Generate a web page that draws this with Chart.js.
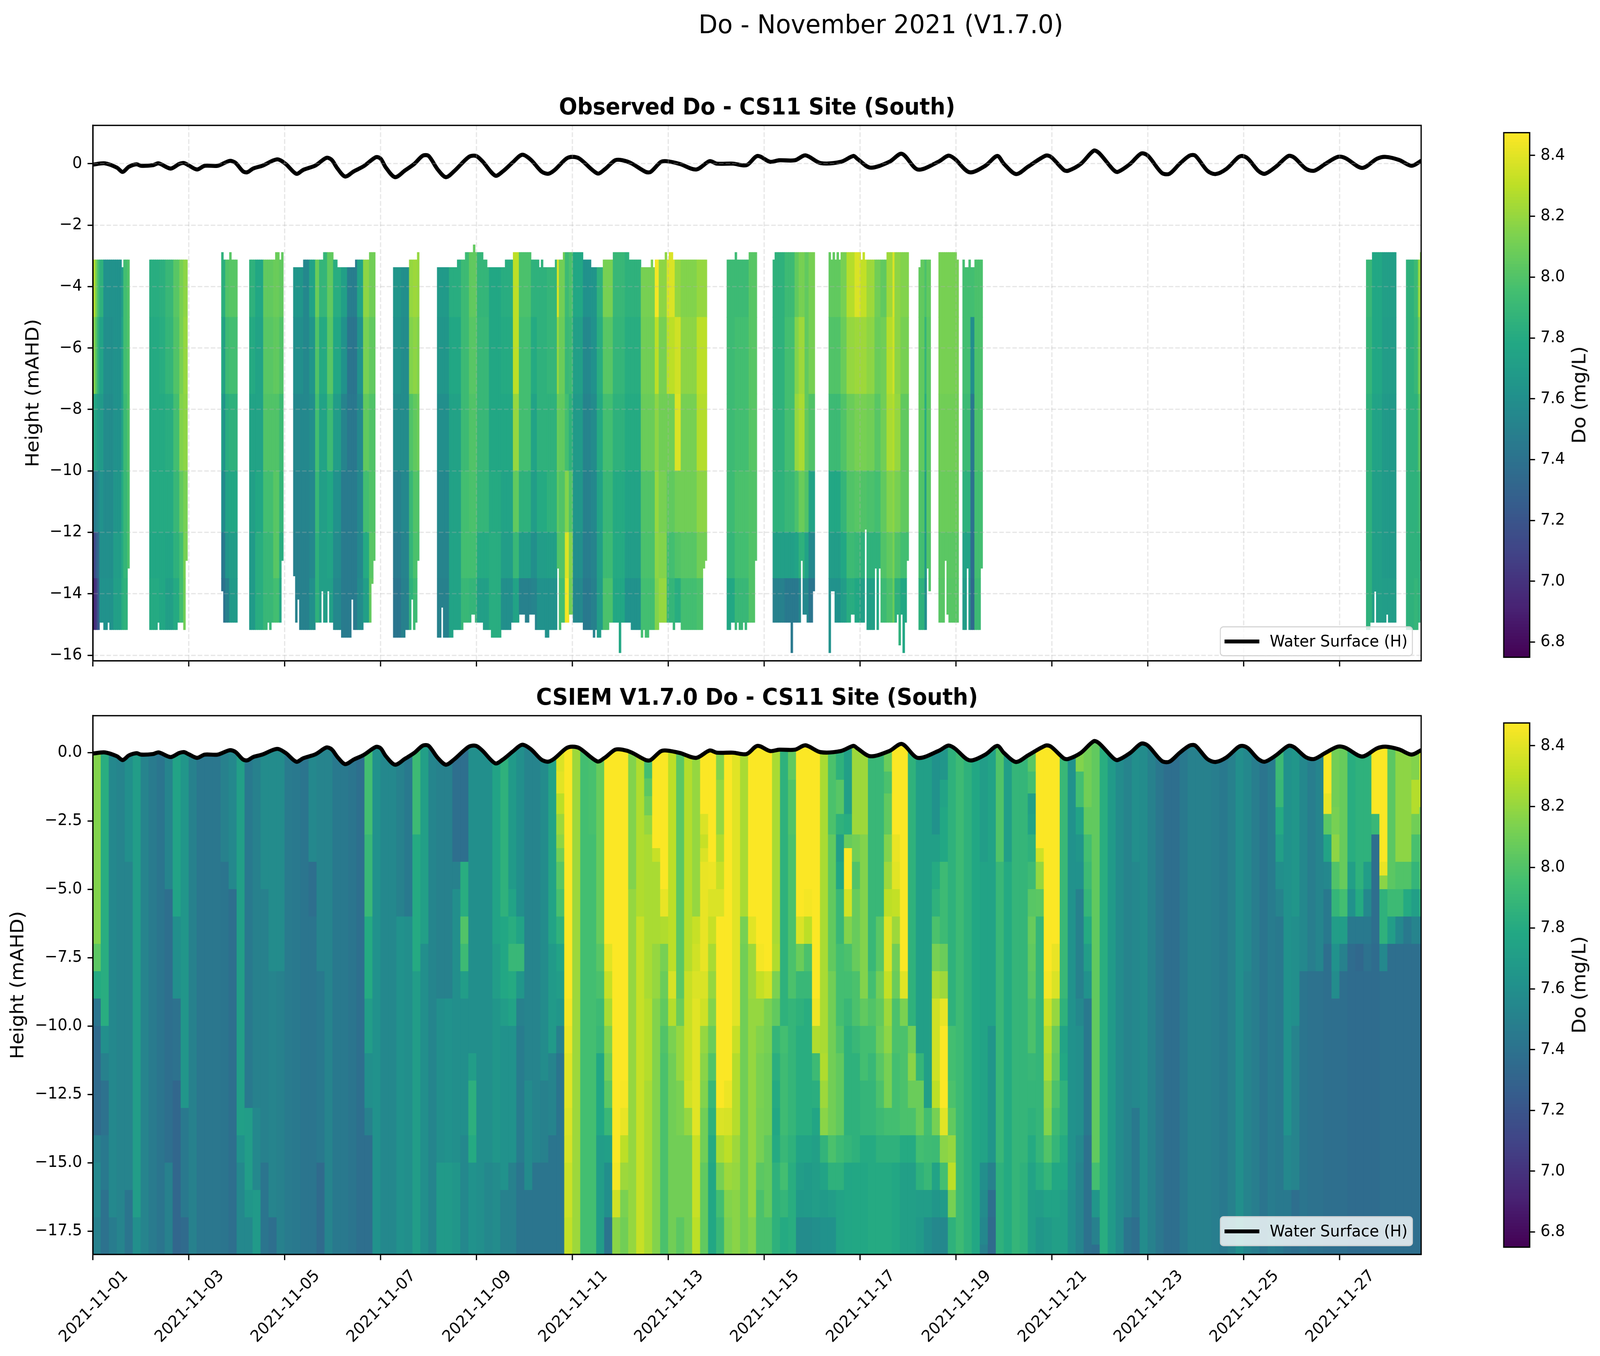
<!DOCTYPE html>
<html>
<head>
<meta charset="utf-8">
<title>Do - November 2021 (V1.7.0)</title>
<script src="https://cdn.jsdelivr.net/npm/chart.js@4/dist/chart.umd.js"></script>
<style>
  html, body { margin: 0; background: #fff; }
  html { overflow: hidden; }
  #page { position: relative; width: 4321px; height: 3471px; transform-origin: 0 0; font-family: "DejaVu Sans", sans-serif; color: #000; }
  canvas { position: absolute; }
  #mainTitle { position: absolute; left: 1379px; width: 2000px; top: 20px; text-align: center; font-size: 66.7px; line-height: 84px; }
  .cbLabel { position: absolute; left: 4264px; font-size: 50px; line-height: 60px; white-space: nowrap; transform: translate(-50%, -50%) rotate(-90deg); }
  .legend { position: absolute; left: 3294px; width: 522px; height: 77px; box-sizing: border-box; border: 3.3px solid rgba(204,204,204,.8); border-radius: 10px; background: rgba(255,255,255,.8); font-size: 41.7px; }
  .legend i { position: absolute; left: 10px; top: 31px; width: 94px; height: 10px; background: #000; }
  .legend span { position: absolute; left: 132px; top: 10px; line-height: 50px; white-space: nowrap; }
</style>
</head>
<body>
<div id="page">
<div id="mainTitle">Do - November 2021 (V1.7.0)</div>
<canvas id="observedChart" width="3880" height="1488" style="left:0;top:243px"></canvas>
<canvas id="modelChart" width="3880" height="1717" style="left:0;top:1754px"></canvas>
<canvas id="observedBar" width="281" height="1422" style="left:4040px;top:300px"></canvas>
<canvas id="modelBar" width="281" height="1421" style="left:4040px;top:1811px"></canvas>
<div class="cbLabel" style="top:1011px">Do (mg/L)</div>
<div class="cbLabel" style="top:2521px">Do (mg/L)</div>
<div class="legend" style="top:1603px"><i></i><span>Water Surface (H)</span></div>
<div class="legend" style="top:3113px"><i></i><span>Water Surface (H)</span></div>
</div>

<script>
// the browser can come up narrower than the figure, squeeze the page so the colour bars stay in view
const pageFit = Math.min(1, window.innerWidth / 4321);
if (pageFit < 1) document.getElementById('page').style.transform = `scaleX(${pageFit})`;

// axis labels, two-day ticks from the first of the month
const xTickLabels = ['2021-11-01','2021-11-03','2021-11-05','2021-11-07','2021-11-09','2021-11-11','2021-11-13',
  '2021-11-15','2021-11-17','2021-11-19','2021-11-21','2021-11-23','2021-11-25','2021-11-27'];

// water surface: day since 1 Nov, height in mAHD
const waterDays = [0,.25,.5,.62,.75,.91,1,1.25,1.37,1.62,1.8,1.9,2,2.17,2.33,2.6,2.85,2.97,3.13,3.22,3.34,3.53,3.84,4.02,4.24,4.39,4.64,4.87,4.98,
  5.1,5.26,5.44,5.65,5.9,6,6.11,6.3,6.51,6.7,6.88,7,7.19,7.36,7.53,7.84,7.99,8.12,8.39,8.55,8.76,8.95,9.13,9.35,9.49,9.62,9.87,10,10.15,10.52,10.67,10.89,
  11.04,11.23,11.53,11.63,11.84,11.96,12.24,12.58,12.86,13.01,13.35,13.63,13.86,14.12,14.31,14.64,14.86,15.17,15.6,15.86,15.94,16.21,16.61,16.87,17.2,17.63,17.84,17.97,
  18.28,18.61,18.86,19,19.25,19.5,19.87,19.98,20.25,20.34,20.6,20.87,20.98,21.28,21.37,21.63,21.86,22,22.29,22.45,22.66,22.87,22.99,23.24,23.41,23.64,23.88,23.97,
  24.09,24.3,24.44,24.67,24.93,25.05,25.3,25.47,25.7,25.96,26.12,26.47,26.78,26.96,27.24,27.5,27.7];
const waterLevels = [-.03,.01,-.13,-.27,-.1,-.02,-.07,-.05,.01,-.16,-.01,.02,-.06,-.19,-.07,-.07,.09,.03,-.25,-.28,-.16,-.07,.14,-.01,-.33,-.2,-.06,.19,.12,
  -.16,-.42,-.25,-.08,.21,.16,-.13,-.44,-.22,-.01,.26,.25,-.19,-.44,-.25,.22,.25,.08,-.39,-.25,.05,.29,.13,-.25,-.33,-.22,.16,.22,.16,-.32,-.19,.11,
  .11,.01,-.27,-.27,.05,.08,-.01,-.19,.08,0,0,-.05,.25,.06,.11,.11,.27,.02,.06,.25,.16,-.13,.06,.32,-.19,.06,.26,.16,
  -.28,-.07,.25,-.01,-.34,-.1,.26,.22,-.21,-.23,-.01,.42,.35,-.2,-.27,-.01,.33,.26,-.3,-.33,-.01,.26,.26,-.23,-.34,-.17,.2,.25,
  .16,-.23,-.33,-.1,.25,.2,-.17,-.23,-.01,.22,.18,-.14,.16,.22,.12,-.07,.09];

// model Do, one list per 4 h column from the surface down: value, depth it reaches (m), value, depth, ... last value runs to the bed
const modelColumns = [
  [8.15,7,8.03,8,7.8,9,7.42,10,7.35,14,7.5,15,7.55,17,7.5],[7.82,10,7.6,11,7.5,12,7.4,14,7.45,16,7.4],[7.55,17,7.47],[7.52],[7.6,4,7.52,16,7.42],
  [7.7,17,7.6],[7.52],[7.46],[7.42],[7.52,5,7.38,15,7.5],
  [7.75,6,7.6,9,7.4,12,7.32],[7.65,13,7.45,17,7.35],[7.5],[7.43],[7.43],
  [7.43],[7.5,4,7.42],[7.55,5,7.38],[7.72,14,7.62,15,7.55],[7.45,13,7.7,16,7.65,17,7.55],
  [7.5,13,7.55,16,7.68],[7.58,5,7.5,15,7.42],[7.58,8,7.52,17,7.38],[7.58,8,7.5],[7.46],
  [7.45],[7.42],[7.55,4,7.38,6,7.42],[7.52,8,7.45,15,7.35],[7.52],
  [7.45],[7.45],[7.42],[7.38],[7.95,3,7.9,6,7.8,9,7.7,11,7.6,13,7.5,14,7.38],
  [7.62],[7.55],[7.55],[7.5,6,7.62],[7.45,6,7.6],
  [7.92,3,7.8,8,7.7],[7.72,7,7.6],[7.53],[7.5,9,7.6,15,7.68],[7.5,9,7.62,15,7.68],
  [7.38,4,7.5,5,7.6,15,7.65],[7.38,4,7.82,6,8,7,7.92,8,7.7,9,7.6,14,7.55],[7.6,11,7.7,12,7.84,14,7.8,15,7.62],[7.6],[7.6,15,7.55],
  [7.75,7,7.7,9,7.65,15,7.58],[7.85,6,7.78,9,7.7,10,7.62,16,7.5],[7.68,5,7.75,6,7.82,7,7.9,8,7.8,9,7.75,10,7.62,15,7.5],[7.6,6,7.75,7,7.9,8,7.65,9,7.5,10,7.47,15,7.42],[7.52,12,7.57,16,7.42],
  [7.52,15,7.42],[7.58,12,7.5,15,7.42],[7.75,7,7.68,11,7.52,14,7.42],[8.38,.7,8.4,1.5,8.3,2.25,8.22,3,8.18,3.5,8.1,4,8.02,5,7.97,6,7.85,7,7.75,8,7.7,9,7.65,10,7.5,11,7.42],[8.47,9,8.45,10,8.43,11,8.4,13,8.38,14,8.37,15,8.34,17,8.32],
  [8.22],[7.95],[7.97,3,7.95],[8.07,7,8.02,8,7.98,9,7.92,10,7.9,11,7.78,14,7.7],[8.47,7,8.4,8,8.33,9,8.25,10,8.15,11,8.1,12,8.03,13,7.9,14,7.72,15,7.6,17,7.42],
  [8.47,15,8.45,16,8.35,17,8.17],[8.47,12,8.46,13,8.42,14,8.3,15,8.22,16,8.13,17,8.1],[8.15,5,8.2],[8.27,6,8.33],[7.95,.95,8.03,1.6,8.1,2.3,8.2,3,8.25,9,8.28,12,8.25],
  [8.47,3.5,8.33,4,8.25,7,8.2,9,8.15],[8.47,5,8.42,6,8.27,7,8.12,8,8.08,9,8.05,10,8,11,7.98],[8.3,8,8.37,9,8.28,10,8.13,11,8.1],[8.03,9,8.08,10,8.2,12,8.13,14,8.1,17,8.03],[8.28,8,8.33,12,8.35,13,8.2,14,8.1],
  [8.2,6,8.33,7,8.35,8,8.38,9,8.4,14,8.33,17,8.3],[8.47,2.25,8.38,3,8.33,3.5,8.38,4,8.42,8,8.38,9,8.35,10,8.2,11,8.17,12,8.15,13,8.1,15,8.05],[8.47,4,8.43,5,8.38,6,8.33,7,8.25,8,8.2,9,8.15,10,8.08,11,8,12,7.9,13,7.85,14,7.8,15,7.78],[8.15,1,8.2,3,8.27,4,8.33,5,8.38,6,8.47,13,8.38,14,8.25,15,8.12,16,7.95,17,7.9],[8.47,12,8.43,13,8.37,14,8.3,15,8.22,16,8.15,17,8.13],
  [8.4,10,8.33,11,8.28,14,8.22,15,8.2,16,8.17],[8.25,6,8.12,7,8.1],[8.47,6,8.4,7,8.22,9,8.2,17,8.15],[8.47,7,8.45,8,8.32,9,8.2,10,8.15,11,8.13,13,8.12,15,8.03,16,7.98],[8.47,8,8.36,9,8.13,10,8.12,11,8.1,14,8.05,17,7.98],
  [8.25,7,8.27,8,8.13,9,8.05,10,7.88,11,7.83,12,7.8,13,7.78,14,7.8,15,7.85],[7.85,10,7.95,11,7.93,14,7.9,15,7.95,16,7.88,17,7.8],[8.05,1,8,3,7.98,9,7.88,14,7.85,15,7.82],[8.47,6,8.38,7,8.08,8,7.9,9,7.85,10,7.82,14,7.75,15,7.7,16,7.67,17,7.58],[8.47,5,8.45,6,8.3,7,7.98,8,7.9,9,7.82,14,7.75,15,7.68,17,7.58],
  [8.47,9,8.44,10,8.27,11,7.92,12,7.83,13,7.76,14,7.72,15,7.7,17,7.6],[8.25,11,8.27,12,8.22,13,8.17,14,7.87,15,7.75,16,7.68,17,7.62],[7.98,3,8.05,8,8.1,14,7.98,15,7.85,16,7.7,17,7.62],[7.85,1,8.02,2.25,7.85,3,7.72,4,7.78,5,7.9,7,7.95,10,8,11,8.05,14,7.92,15,7.85,16,7.75],[7.72,2.25,7.82,3,8.07,3.5,8.47,5,8.36,6,8.15,7,7.98,8,7.95,9,7.9,10,7.85,14,7.88,15,7.77],
  [8.22,3,8.1,4,8,5,8.07,8,7.98,10,7.9,11,7.85,15,7.78],[8.22,3,8.15,9,8.05,10,7.95,12,7.88,14,7.8,15,7.78],[7.9,8,7.95,9,8,10,7.95,11,7.9,12,7.88,14,7.8],[7.9,6,8.02,8,8.1,9,8.05,10,8.08,11,8.02,12,7.98,13,7.92,14,7.85,15,7.8],[8.08,.7,7.98,1.5,8.05,3,8.15,4,8.22,5,8.3,6,8.38,8,8.32,9,8.22,10,8.18,11,8.12,13,7.95,14,7.85,15,7.8],
  [8.47,3,8.42,4,8.4,5,8.32,6,8.22,7,8.1,8,8.08,9,7.98,11,7.95,14,7.85,15,7.78],[8.47,8,8.4,9,8.13,10,7.98,14,7.8,15,7.72],[7.85,10,8.1,11,8.17,12,8.08,13,7.98,14,7.8,15,7.72],[7.72,11,7.88,12,8.08,14,7.95,15,7.85,16,7.7,17,7.68],[7.72,13,7.95,14,7.93,15,7.9,16,7.7,17,7.6],
  [7.62,3,7.72,4,7.8,5,7.85,6,7.98,7,8.12,8,8.25,9,8.35,12,8.3,13,8.12,14,7.92,15,7.75,16,7.65,17,7.55],[7.65,1,7.75,2,7.78,4,7.92,7,8.08,8,8.22,9,8.42,10,8.47,13,8.4,14,8.17,15,7.95,16,7.68,17,7.55],[7.85,10,7.95,12,7.98,13,8.05,14,8.2,15,8.3,16,8.12,17,7.85],[7.92],[7.85],
  [7.78],[7.7,4,7.75,15,7.6,16,7.58,17,7.55,18,7.5],[7.75,10,7.65,15,7.5,16,7.38,17,7.35],[8,4,7.9,15,7.85],[7.72,4,7.8],
  [7.88],[7.88,15,7.85],[8.02,.7,7.95,1.5,7.72,2.25,7.75,3,7.85,4,7.92,5,8.02,6,8.07,7,8.05,8,8.03,9,7.98,11,7.9,12,7.88,13,7.85,14,7.8,15,7.75,16,7.72],[8.47,3.5,8.35,4,8.2,5,8.03,6,7.88,15,7.82,16,7.7,17,7.65],[8.47,8,8.45,9,8.35,10,8.28,11,8.25,12,8.17,13,8.15,14,8,15,7.88,16,7.75,17,7.68],
  [8.47,7,8.42,8,8.38,9,8.2,10,8.08,11,8.05,12,7.98,13,7.92,14,7.88,15,7.78,16,7.75,17,7.72],[7.9,9,7.85,10,7.75,11,7.78,12,7.85,14,7.8,15,7.78,16,7.72],[7.62,16,7.6],[8.15,.7,7.95,2,7.75,3,7.65,4,7.62,5,7.5,9,7.55,10,7.6,14,7.55,15,7.52],[8.1,2,8.05,3,7.95,4,7.92,5,7.88,6,7.8,7,7.7,8,7.62,9,7.45,14,7.4],
  [8.05,15,7.95,16,7.65,17,7.5,18,7.38],[7.82],[7.68],[7.58],[7.52,17,7.42],
  [7.6,4,7.55,13,7.45,17,7.38],[7.58],[7.5],[7.43],[7.38],
  [7.38],[7.45],[7.5],[7.5],[7.5],
  [7.48],[7.45],[7.5],[7.6],[7.55,8,7.52],
  [7.48],[7.42],[7.47],[7.92,1,7.9,2,7.8,3,7.72,4,7.6,5,7.52,6,7.45],[7.62,14,7.55,16,7.45,17,7.4],
  [7.65,6,7.6,10,7.52,16,7.38],[7.55,8,7.42],[7.48,8,7.4],[7.53,8,7.4],[8.47,1.5,8.42,2.25,8.03,3,7.75,4,7.55,5,7.45,7,7.38],
  [8.1,2,8.12,3,8.18,4,8,5,7.88,6,7.7,7,7.62,8,7.58,9,7.38],[8.07,5,7.95,6,7.7,7,7.5,8,7.38],[7.82,4,7.72,5,7.62,6,7.45,7,7.36],[7.85,5,7.8,6,7.45,7,7.33,8,7.36],[7.85,4,7.7,5,7.55,6,7.45,7,7.4,8,7.36],
  [8.47,2.25,7.9,3,7.38,7,7.36],[8.47,4,8.42,4.5,8.17,5,7.85,7,7.55,8,7.38],[8.03,5,7.92,6,7.7,7,7.38],[8.18,4,8,5,7.92,6,7.55,7,7.38],[8.18,4,8,5,7.8,6,7.45,7,7.38],
  [8.15,1,8.28,2.25,8.1,3,7.97,4,7.88,5,7.72,6,7.52,7,7.38],[8.35,1,8.3,2,8.1,3,8,5,7.85,6,7.5,7,7.38]
];

// observed profile outline, by hour since 1 Nov: hour, top of profile (mAHD), each level holds until the next hour listed
const obsTopRuns = [0,-3.13,14,-3.38,15,-3.13,64,-2.89,65,-3.13,68,-2.89,69,-3.13,91,-2.89,93,-3.13,94,-2.89,100,-3.38,105,-3.13,115,-2.89,120,-3.13,122,-3.38,131,-3.13,138,-2.89,
  150,-3.38,158,-3.13,162,-2.89,172,-3.38,182,-3.13,186,-2.89,190,-2.64,191,-2.89,195,-3.13,197,-3.38,206,-3.13,210,-2.89,219,-3.13,223,-3.38,224,-3.13,225,-3.38,231,-3.13,235,-2.89,
  245,-3.13,249,-3.38,255,-3.13,260,-2.89,268,-3.13,274,-3.38,279,-3.13,280,-3.38,281,-3.13,286,-2.89,287,-3.13,288,-2.89,290,-3.13,321,-2.89,322,-3.13,328,-2.89,340,-3.13,341,-2.89,
  369,-3.13,370,-2.89,371,-3.13,372,-2.89,373,-3.13,374,-2.89,384,-3.13,385,-2.89,386,-3.13,397,-2.89,413,-3.38,414,-3.13,423,-2.89,432,-3.13,436,-3.38,438,-3.13,439,-3.38,441,-3.13,
  640,-2.89,657,-3.13,664,-2.89];
const obsBottomRuns = [0,-15.17,3,-14.93,5,-15.17,7,-14.93,8,-15.17,17,-13.17,28,-15.17,32,-14.93,33,-15.17,42,-14.93,45,-15.17,46,-12.92,64,-13.91,65,-14.93,78,-15.17,87,-14.93,88,-15.17,89,-14.93,94,-12.92,
  100,-13.42,101,-14.93,102,-14.18,103,-15.17,111,-14.93,114,-13.91,115,-14.93,117,-13.91,118,-14.93,120,-15.17,124,-15.42,129,-14.18,130,-15.17,135,-14.93,139,-13.67,140,-12.92,
  150,-15.42,156,-15.17,159,-14.18,160,-15.17,161,-14.93,162,-12.92,172,-15.42,174,-14.44,175,-15.42,180,-15.17,185,-14.93,189,-14.67,191,-14.93,195,-15.17,199,-15.42,204,-15.17,209,-14.93,213,-14.67,216,-14.93,218,-14.67,221,-15.17,
  226,-15.42,228,-15.17,232,-13.17,233,-15.17,234,-14.93,238,-14.67,240,-14.93,245,-15.17,250,-15.42,251,-15.17,252,-15.42,254,-15.17,258,-14.93,263,-15.92,264,-14.93,269,-15.17,274,-15.42,275,-15.17,276,-15.42,278,-15.17,283,-14.93,290,-15.17,291,-14.93,294,-15.17,305,-13.17,306,-12.92,
  317,-15.17,319,-14.93,321,-15.17,322,-14.93,323,-15.17,325,-14.93,326,-15.17,327,-14.93,331,-12.92,340,-14.93,349,-15.92,350,-14.93,354,-12.92,355,-14.67,357,-14.93,360,-13.91,
  368,-15.92,369,-13.91,371,-14.93,379,-14.67,381,-14.93,386,-11.9,387,-15.17,391,-13.17,392,-15.17,393,-13.17,394,-14.93,402,-14.67,403,-15.67,404,-14.67,405,-15.92,406,-14.93,407,-12.92,
  413,-15.17,417,-13.17,418,-13.91,423,-14.93,426,-12.92,427,-14.67,428,-14.93,435,-15.17,437,-13.17,438,-15.17,444,-13.17,637,-15.17,639,-14.93,641,-13.92,642,-14.93,647,-14.67,648,-14.93,657,-15.17,663,-14.93,664,-12.92];

// depths where the observed strips change value
const obsZoneEdges = [-5, -7.5, -10, -12, -13.5];
// observed Do strips: from hour, to hour, then one value per zone from top to bed
const observedStrips = [
  [0,1,8.28,8.15,7.8,7.45,7.1,6.95],[1,2,8.1,8,7.75,7.5,7.25,7.05],[2,3,7.95,7.85,7.7,7.55,7.35,7.25],[3,5,7.85,7.75,7.68,7.62,7.6,7.62],[5,10,7.62,7.6,7.58,7.57,7.6,7.62],[10,14,7.62,7.62,7.62,7.65,7.7,7.72],[14,15,7.72,7.75,7.75,7.8,7.8,7.82],[15,17,7.95,7.95,7.92,7.9,7.88,7.85],[17,18,8,8,8,7.98,7.98,7.98],
  [28,33,7.82,7.8,7.8,7.8,7.78,7.8],[33,36,7.84,7.82,7.8,7.8,7.78,7.78],[36,40,7.9,7.88,7.82,7.8,7.76,7.72],[40,43,8.02,8,7.95,7.9,7.85,7.8],[43,45,8.12,8.12,8.15,8.05,7.95,7.95],[45,47,8.18,8.2,8.18,8.12,8.12,8.1],
  [64,65,7.85,7.8,7.72,7.6,7.45,7.4],[65,66,7.82,7.72,7.62,7.55,7.45,7.4],[66,68,8,7.92,7.82,7.75,7.65,7.5],[68,72,8.02,7.95,7.85,7.78,7.7,7.68],
  [78,81,7.85,7.8,7.75,7.72,7.68,7.68],[81,85,7.78,7.75,7.75,7.78,7.82,7.82],[85,90,8.05,8.02,8,7.95,7.9,7.9],[90,93,8.08,8.05,8,8.02,8.02,7.95],[93,95,8.05,8,7.92,7.88,7.82,7.78],
  [100,105,7.65,7.6,7.55,7.52,7.5,7.5],[105,108,7.55,7.55,7.55,7.52,7.5,7.5],[108,111,7.75,7.65,7.6,7.55,7.55,7.6],[111,113,8.08,8,7.95,7.9,7.85,7.85],[113,117,7.88,7.8,7.75,7.72,7.72,7.72],[117,120,8.05,8.02,7.92,7.78,7.75,7.72],[120,124,7.82,7.78,7.7,7.62,7.58,7.55],[124,127,7.72,7.62,7.52,7.46,7.46,7.46],[127,132,7.48,7.42,7.44,7.46,7.46,7.46],[132,135,7.75,7.62,7.56,7.55,7.55,7.58],[135,138,8.18,8.12,8.05,7.95,7.8,7.72],[138,141,8.1,8.05,8,8,8.02,8.05],
  [150,154,7.65,7.62,7.58,7.5,7.46,7.42],[154,158,7.6,7.58,7.58,7.55,7.52,7.5],[158,160,8.2,8.15,8,7.9,7.88,7.85],[160,162,8.22,8.18,8.05,8,7.98,7.92],[162,163,8.2,8.15,8.08,8,7.98,7.95],
  [172,178,7.68,7.65,7.6,7.55,7.52,7.5],[178,184,7.82,7.78,7.74,7.74,7.75,7.75],[184,188,7.92,7.92,7.92,7.95,7.95,7.9],[188,192,8.05,8.02,8,7.98,7.95,7.88],[192,198,7.88,7.9,7.9,7.88,7.8,7.72],[198,204,7.78,7.78,7.78,7.8,7.82,7.82],[204,210,7.82,7.8,7.78,7.75,7.7,7.6],[210,213,8.3,8.3,8.2,8.05,7.9,7.75],[213,219,7.98,7.95,7.95,7.85,7.7,7.5],[219,222,7.85,7.8,7.75,7.7,7.6,7.52],
  [222,227,7.85,7.85,7.85,7.8,7.7,7.62],[227,232,7.88,7.88,7.85,7.85,7.72,7.62],[232,233,8.38,8.2,8.08,8.05,8,7.95],[233,236,8.1,8.08,8.05,8,8,7.95],[236,238,7.92,7.9,7.95,8.15,8.38,8.45],[238,240,7.98,7.92,7.85,8,8.15,8.1],[240,245,7.78,7.72,7.68,7.65,7.6,7.55],[245,249,7.62,7.55,7.52,7.5,7.48,7.45],[249,252,7.64,7.62,7.58,7.55,7.52,7.5],[252,255,7.85,7.82,7.8,7.75,7.72,7.7],[255,260,8.12,8.02,7.95,7.9,7.92,7.98],[260,266,7.9,7.88,7.85,7.8,7.8,7.78],[266,274,7.85,7.82,7.8,7.75,7.7,7.62],[274,281,8.12,8.1,8.08,8,7.98,7.95],[281,283,8.45,8.3,8.18,8.2,8.18,8.15],[283,287,8.18,8.12,8.1,8.12,8.15,8.2],[287,291,8.38,8.3,8.1,8.05,7.95,7.88],[291,294,8.2,8.35,8.38,8.1,8,7.82],[294,302,8.15,8.18,8.12,8.1,8.02,7.95],[302,307,8.2,8.3,8.28,8.18,8.1,7.98],
  [317,321,7.92,7.92,7.92,7.92,7.88,7.78],[321,328,7.92,7.95,7.95,7.98,7.95,7.9],[328,332,8.02,8.02,8.02,8,8,8],
  [340,346,7.85,7.85,7.85,7.85,7.72,7.5],[346,351,7.92,7.95,7.95,7.9,7.72,7.45],[351,353,8.05,8.15,8.2,7.98,7.75,7.45],[353,356,8.12,8.22,8.25,8.08,7.85,7.55],[356,358,8.05,8.05,8.05,8,7.75,7.55],[358,361,8.12,8.12,8,7.75,7.55,7.42],
  [368,374,8.05,8,7.92,7.78,7.7,7.62],[374,377,8.12,8.08,8,7.88,7.78,7.7],[377,381,8.28,8.2,8.08,8,7.92,7.82],[381,384,8.38,8.22,8.12,8.02,7.9,7.78],[384,387,8.32,8.22,8.12,8,7.85,7.72],[387,391,8.22,8.18,8.1,7.98,7.85,7.72],[391,394,8.1,8.08,8.02,7.95,7.85,7.78],[394,397,8.05,8.1,8.1,8.05,8,7.92],[397,400,8.22,8.28,8.25,8.15,8.05,7.98],[400,401,8.38,8.35,8.28,8.18,8.12,8.08],[401,404,8.18,8.18,8.2,8.12,8,7.85],[404,408,8.15,8.12,8.05,8.05,7.95,7.78],
  [413,416,8.05,8.05,8.05,8,7.95,7.85],[416,417,7.98,7.88,7.82,7.72,7.68,7.6],[417,419,8.05,8.03,8.03,8.03,8,8],[423,433,8.12,8.12,8.1,8.08,8.03,8.02],
  [435,439,7.95,7.95,7.92,7.85,7.75,7.7],[439,441,7.95,7.6,7.45,7.4,7.38,7.35],[441,445,7.98,7.98,7.98,7.95,7.95,7.92],
  [637,640,7.9,7.88,7.85,7.85,7.85,7.85],[640,645,7.78,7.78,7.75,7.72,7.72,7.72],[645,652,7.72,7.7,7.68,7.68,7.68,7.7],[657,661,7.85,7.85,7.85,7.85,7.85,7.85],[661,663,7.92,7.9,7.85,7.85,7.85,7.88],[663,664,8.2,8.1,8,7.9,7.85,7.85],[664,665,8.15,8.12,8.08,8,7.95,7.95]
];

// scale limits
const doMin = 6.75, doMax = 8.475;
const dayMax = 27.7;
const obsYMin = -16.18, obsYMax = 1.245;
const modelYMin = -18.35, modelYMax = 1.353;

const viridisStops = ['#440154','#482475','#414487','#355f8d','#2a788e','#21918c','#22a884','#44bf70','#7ad151','#bddf26','#fde725'];

Chart.defaults.font.family = '"DejaVu Sans", sans-serif';
Chart.defaults.color = '#000';
Chart.defaults.animation = false;

const LW = 3.33; // axis line width
const TICK = 14.6;
const FS_TICK = 41.67;

function hexToRgb(h) {
  return [parseInt(h.slice(1,3),16), parseInt(h.slice(3,5),16), parseInt(h.slice(5,7),16)];
}

// map a Do value to the viridis colour
function viridis(v) {
  let t = (v - doMin) / (doMax - doMin);
  t = Math.max(0, Math.min(1, t));
  const pos = t * (viridisStops.length - 1);
  const i = Math.min(Math.floor(pos), viridisStops.length - 2);
  const a = hexToRgb(viridisStops[i]), b = hexToRgb(viridisStops[i+1]);
  const f = pos - i;
  return `rgb(${a.map((c,k) => Math.round(c + (b[k]-c)*f)).join(',')})`;
}

// step lookup in a flat [hour, value, hour, value...] list
function stepLookup(runs, hour) {
  let val = runs[1];
  for (let i = 0; i < runs.length; i += 2) {
    if (runs[i] <= hour) val = runs[i+1];
    else break;
  }
  return val;
}

function buildModelBars() {
  const bars = [];
  modelColumns.forEach((col, n) => {
    let top = modelYMax;
    for (let i = 0; i < col.length; i += 2) {
      const low = i + 1 < col.length ? -col[i+1] : modelYMin;
      bars.push({x: (n + 0.5) / 6, y: [low, top], v: col[i]});
      top = low;
    }
  });
  return bars;
}

function buildObservedBars() {
  const bars = [];
  observedStrips.forEach(s => {
    for (let h = s[0]; h < s[1]; h++) {
      const top = stepLookup(obsTopRuns, h), bottom = stepLookup(obsBottomRuns, h);
      let upper = top;
      for (let z = 0; z <= obsZoneEdges.length && upper > bottom; z++) {
        const low = z < obsZoneEdges.length ? Math.max(obsZoneEdges[z], bottom) : bottom;
        bars.push({x: (h + 0.8) / 24, y: [low, upper], v: s[2+z]});
        upper = low;
      }
    }
  });
  return bars;
}

// top and right spines, the scales only draw left and bottom
const frame = {
  id: 'frame',
  afterDraw(chart) {
    const a = chart.chartArea, c = chart.ctx;
    c.save();
    c.strokeStyle = '#000';
    c.lineWidth = LW;
    c.strokeRect(a.left, a.top, a.right - a.left, a.bottom - a.top);
    c.restore();
  }
};

function panel(id, titleText, bars, yMin, yMax, yStep, yFmt, opts) {
  const water = waterDays.map((d,i) => ({x: d, y: waterLevels[i]}));
  const gridZ = opts.gridLines ? 1 : -1;
  const borderZ = opts.gridLines ? 1 : 0;
  return new Chart(document.getElementById(id), {
    type: 'bar',
    plugins: [frame],
    data: {
      datasets: [
        {
          type: 'line',
          label: 'Water Surface (H)',
          data: water,
          borderColor: '#000',
          borderWidth: 10.4,
          borderJoinStyle: 'round',
          borderCapStyle: 'round',
          pointRadius: 0,
          tension: 0.3,
          fill: opts.clipAbove ? 'end' : false,
          backgroundColor: '#fff',
          order: 0
        },
        {
          label: 'Do',
          data: bars,
          backgroundColor: bars.map(b => viridis(b.v)),
          borderWidth: 0,
          barPercentage: 1,
          categoryPercentage: 1,
          inflateAmount: 0.6,
          order: 1
        }
      ]
    },
    options: {
      responsive: false,
      devicePixelRatio: 1,
      animation: false,
      events: [],
      layout: {padding: {left: 0, right: 42, top: 0, bottom: 0}},
      plugins: {
        legend: {display: false},
        tooltip: {enabled: false},
        title: {
          display: true,
          text: titleText,
          fullSize: false,
          font: {size: 58.3, weight: 'bold', lineHeight: 1.2},
          padding: {top: 0, bottom: 8}
        }
      },
      scales: {
        x: {
          type: 'linear',
          offset: false,
          min: 0,
          max: dayMax,
          afterFit: s => { s.height = opts.xHeight; },
          grid: {offset: false, display: true, drawOnChartArea: opts.gridLines, color: 'rgba(176,176,176,0.3)', lineWidth: LW, z: gridZ,
                 tickColor: '#000', tickWidth: LW, tickLength: TICK},
          border: {display: true, color: '#000', width: LW, dash: [12.3, 5.3], z: borderZ},
          ticks: {
            stepSize: 2,
            includeBounds: false,
            autoSkip: false,
            minRotation: opts.showDates ? 45 : 0,
            maxRotation: opts.showDates ? 45 : 0,
            padding: 16,
            labelOffset: opts.showDates ? 88 : 0,
            font: {size: FS_TICK},
            callback: v => opts.showDates ? xTickLabels[v / 2] : ''
          }
        },
        y: {
          type: 'linear',
          min: yMin,
          max: yMax,
          afterFit: s => { s.width = 251; },
          title: {display: true, text: 'Height (mAHD)', font: {size: 50, lineHeight: 1.2}, padding: {top: opts.labelPad, bottom: 0}},
          grid: {drawOnChartArea: opts.gridLines, color: 'rgba(176,176,176,0.3)', lineWidth: LW, z: gridZ,
                 tickColor: '#000', tickWidth: LW, tickLength: TICK},
          border: {display: true, color: '#000', width: LW, dash: [12.3, 5.3], z: borderZ},
          ticks: {stepSize: yStep, includeBounds: false, autoSkip: false, padding: 14.6, font: {size: FS_TICK}, callback: yFmt}
        }
      }
    }
  });
}

function colorbar(id) {
  const edges = [];
  for (let i = 0; i <= 172; i++) edges.push(doMin + (doMax - doMin) * i / 172);
  const slices = edges.slice(0, -1).map((e, i) => ({x: 'Do', y: [e, edges[i+1]], v: (e + edges[i+1]) / 2}));
  return new Chart(document.getElementById(id), {
    type: 'bar',
    plugins: [frame],
    data: {
      labels: ['Do'],
      datasets: [{data: slices, backgroundColor: slices.map(s => viridis(s.v)), borderWidth: 0, barPercentage: 1, categoryPercentage: 1, inflateAmount: 0.6}]
    },
    options: {
      responsive: false,
      devicePixelRatio: 1,
      animation: false,
      events: [],
      layout: {padding: {left: 21, right: 0, top: 21, bottom: 21}},
      plugins: {legend: {display: false}, tooltip: {enabled: false}},
      scales: {
        x: {display: false},
        y: {
          position: 'right',
          min: doMin,
          max: doMax,
          afterFit: s => { s.width = 190; },
          grid: {drawOnChartArea: false, tickColor: '#000', tickWidth: LW, tickLength: TICK},
          border: {display: true, color: '#000', width: LW},
          ticks: {stepSize: 0.2, includeBounds: false, padding: 14.6, font: {size: FS_TICK}, callback: v => v.toFixed(1)}
        }
      }
    }
  });
}

const minusSign = s => String(s).replace('-', '\u2212');

panel('observedChart', 'Observed Do - CS11 Site (South)', buildObservedBars(), obsYMin, obsYMax, 2,
  v => minusSign(v), {gridLines: true, showDates: false, xHeight: 30, labelPad: 61, clipAbove: false});
panel('modelChart', 'CSIEM V1.7.0 Do - CS11 Site (South)', buildModelBars(), modelYMin, modelYMax, 2.5,
  v => minusSign(v.toFixed(1)), {gridLines: false, showDates: true, xHeight: 260, labelPad: 20, clipAbove: true});
colorbar('observedBar');
colorbar('modelBar');
</script>
</body>
</html>
